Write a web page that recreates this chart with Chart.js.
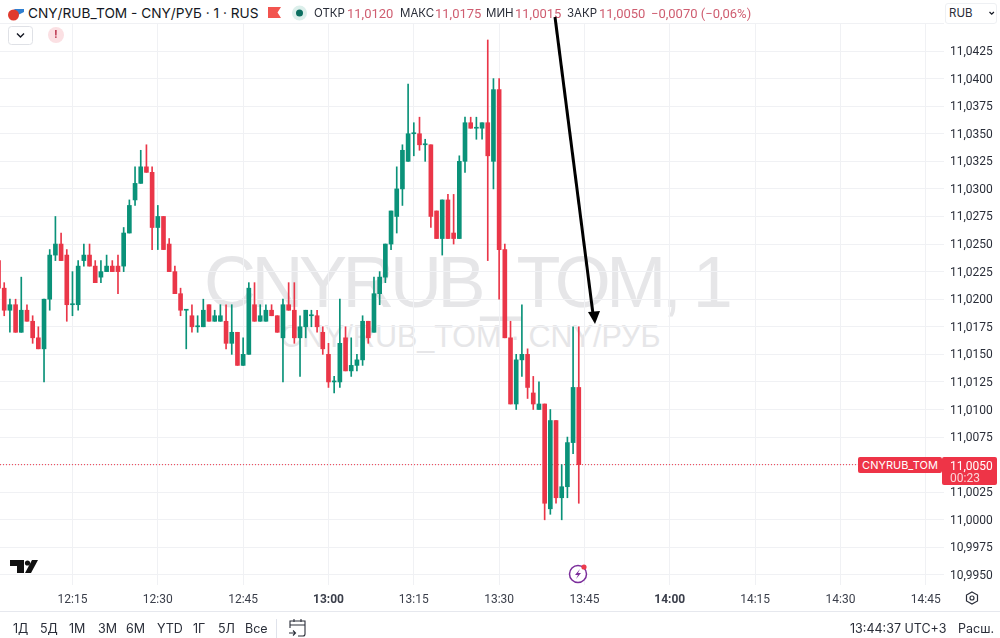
<!DOCTYPE html>
<html>
<head>
<meta charset="utf-8">
<script src="https://cdn.jsdelivr.net/npm/chart.js@4/dist/chart.umd.min.js"></script>
<style>
  html, body { margin: 0; padding: 0; background: #fff; }
  #wrap { position: relative; width: 1000px; height: 638px; overflow: hidden; font-family: Inter, sans-serif; color: #131722; }
  #wrap canvas { position: absolute; left: 0; top: 0; }
  .t { position: absolute; white-space: nowrap; line-height: 1; }
  .wm { font-family: "Liberation Sans", sans-serif; color: #e6e6e8; }
  .lbl { font-size: 11.5px; top: 7.5px; color: #2a2e39; }
  .val { font-family: Roboto, sans-serif; font-size: 13px; top: 6.5px; color: #cf5d70; }
  .tb { font-size: 12.5px; top: 623px; color: #2a2e39; }
  svg { position: absolute; overflow: visible; }
</style>
</head>
<body>
<div id="wrap">
  <div class="t wm" style="left:204px;top:246px;font-size:72px;letter-spacing:-4.5px;">CNYRUB_TOM, 1</div>
  <div class="t wm" style="left:280px;top:321px;font-size:30.5px;">CNY/RUB_TOM · CNY/РУБ</div>

  <canvas id="candleChart" width="1000" height="638"></canvas>

  <!-- header -->
  <div style="position:absolute;left:0;top:0;width:1000px;height:23px;background:#fff;"></div>
  <svg style="left:0;top:0" width="1000" height="50">
    <path d="M14 9 L24 9 L24 12 L18 15 Z" fill="#2f7fd0"/>
    <circle cx="13.5" cy="15" r="5.5" fill="#e03a2e"/>
    <path d="M268 7 H281 L277.5 12.5 L281 18 H268 Z" fill="#f2544f"/>
    <circle cx="299.5" cy="13" r="7.5" fill="#dcefeb"/>
    <circle cx="299.5" cy="13" r="3.5" fill="#0b6f60"/>
    <rect x="8.5" y="26.5" width="24" height="18" rx="3" fill="#fff" stroke="#dfe1e6"/>
    <path d="M17 33.5 L20.5 37 L24 33.5" fill="none" stroke="#131722" stroke-width="1.4"/>
    <circle cx="56" cy="35" r="8" fill="#fbe0e3"/>
  </svg>
  <div class="t" style="left:28px;top:6.5px;font-size:13.7px;">CNY/RUB_TOM - CNY/РУБ · 1 · RUS</div>
  <div class="t" style="left:54px;top:29px;font-size:11px;font-weight:700;color:#c0435a;">!</div>
  <div class="t lbl" style="left:314px;">ОТКР</div><div class="t val" style="left:347px;">11,0120</div>
  <div class="t lbl" style="left:400px;">МАКС</div><div class="t val" style="left:435px;">11,0175</div>
  <div class="t lbl" style="left:486px;">МИН</div><div class="t val" style="left:515px;">11,0015</div>
  <div class="t lbl" style="left:567px;">ЗАКР</div><div class="t val" style="left:599px;">11,0050</div>
  <div class="t val" style="left:651px;">−0,0070 (−0,06%)</div>
  <div class="t" style="left:945px;top:3px;width:52px;height:21px;box-sizing:border-box;border:1px solid #eef0f3;border-radius:3px;background:#fff;font-size:11.5px;line-height:19px;padding-left:3px;color:#2a2e39;">RUB</div>
  <svg style="left:0;top:0" width="1000" height="50">
    <path d="M989.5 12 L991.7 14.2 L993.9 12" fill="none" stroke="#131722" stroke-width="1.2"/>
  </svg>

  <!-- arrow -->
  <svg style="left:0;top:0" width="1000" height="638">
    <line x1="555" y1="17" x2="593" y2="314" stroke="#000" stroke-width="3"/>
    <path d="M595 324 L588 312 L600 311 Z" fill="#000"/>
  </svg>

  <!-- price badges -->
  <div class="t" style="left:858px;top:457px;width:84px;height:16px;background:#ee3447;border-radius:2px;color:#fff;font-size:11px;line-height:16px;text-align:center;">CNYRUB_TOM</div>
  <div style="position:absolute;left:942px;top:457px;width:55px;height:28px;background:#ee3447;border-radius:2px;"></div>
  <div class="t" style="left:950px;top:460px;color:#fff;font-family:Roboto,sans-serif;font-size:12px;">11,0050</div>
  <div class="t" style="left:950px;top:472px;color:#fbd5d9;font-family:Roboto,sans-serif;font-size:12px;">00:23</div>

  <!-- logo, event icon, gear -->
  <svg style="left:0;top:0" width="1000" height="638">
    <path d="M10 560 H24 V573 H17 V566 H10 Z" fill="#111"/>
    <circle cx="27.5" cy="563" r="2.6" fill="#111"/>
    <path d="M32 560 H38 L31 573 H25 Z" fill="#111"/>
    <circle cx="578" cy="574" r="8.5" fill="#fff" stroke="#7b2d9b" stroke-width="1.5"/>
    <path d="M580 569 L575 575 H578 L576 579 L581 573 H578 Z" fill="#7b2d9b"/>
    <circle cx="584" cy="567" r="2.6" fill="#ec3a4c"/>
    <path d="M972 592 L977.5 595 V601 L972 604 L966.5 601 V595 Z" fill="none" stroke="#2a2e39" stroke-width="1.2"/>
    <circle cx="972" cy="598" r="2" fill="none" stroke="#2a2e39" stroke-width="1.2"/>
    <rect x="276" y="619" width="1" height="19" fill="#e0e3eb"/>
    <path d="M290 628 V621 H305 V634 Q305 636 303 636 H298 M290 625 H305 M294 619 V622 M301 619 V622 M289 633 H295 M293 630.5 L295.5 633 L293 635.5" fill="none" stroke="#2a2e39" stroke-width="1.1"/>
    <rect x="0" y="611" width="1000" height="1" fill="#e6e8ee"/>
  </svg>

  <!-- bottom toolbar -->
  <div class="t tb" style="left:13px;">1Д</div>
  <div class="t tb" style="left:40px;">5Д</div>
  <div class="t tb" style="left:69px;">1М</div>
  <div class="t tb" style="left:98px;">3М</div>
  <div class="t tb" style="left:126px;">6М</div>
  <div class="t tb" style="left:157px;">YTD</div>
  <div class="t tb" style="left:193px;">1Г</div>
  <div class="t tb" style="left:218px;">5Л</div>
  <div class="t tb" style="left:245px;">Все</div>
  <div class="t tb" style="left:850px;">13:44:37 UTC+3</div>
  <div class="t tb" style="left:958px;">Расш.</div>
</div>

<script>
const times = [
  "12:02","12:03","12:04","12:05","12:06","12:07","12:08","12:09","12:10","12:11",
  "12:12","12:13","12:14","12:15","12:16","12:17","12:18","12:19","12:20","12:21",
  "12:22","12:23","12:24","12:25","12:26","12:27","12:28","12:29","12:30","12:31",
  "12:32","12:33","12:34","12:35","12:36","12:37","12:38","12:39","12:40","12:41",
  "12:42","12:43","12:44","12:45","12:46","12:47","12:48","12:49","12:50","12:51",
  "12:52","12:53","12:54","12:55","12:56","12:57","12:58","12:59","13:00","13:01",
  "13:02","13:03","13:04","13:05","13:06","13:07","13:08","13:09","13:10","13:11",
  "13:12","13:13","13:14","13:15","13:16","13:17","13:18","13:19","13:20","13:21",
  "13:22","13:23","13:24","13:25","13:26","13:27","13:28","13:29","13:30","13:31",
  "13:32","13:33","13:34","13:35","13:36","13:37","13:38","13:39","13:40","13:41",
  "13:42","13:43","13:44"
];
const opens = [
  11.0235,11.0210,11.0190,11.0195,11.0170,11.0190,11.0180,11.0165,11.0155,11.0200,
  11.0240,11.0250,11.0240,11.0195,11.0195,11.0235,11.0240,11.0230,11.0220,11.0225,
  11.0230,11.0230,11.0230,11.0260,11.0290,11.0305,11.0320,11.0315,11.0265,11.0275,
  11.0250,11.0225,11.0205,11.0190,11.0185,11.0175,11.0175,11.0195,11.0180,11.0180,
  11.0180,11.0160,11.0170,11.0140,11.0150,11.0195,11.0180,11.0180,11.0190,11.0185,
  11.0165,11.0195,11.0190,11.0165,11.0175,11.0185,11.0185,11.0170,11.0150,11.0125,
  11.0125,11.0165,11.0135,11.0140,11.0145,11.0180,11.0170,11.0205,11.0220,11.0250,
  11.0275,11.0300,11.0325,11.0350,11.0350,11.0340,11.0340,11.0280,11.0255,11.0290,
  11.0260,11.0255,11.0325,11.0360,11.0355,11.0355,11.0360,11.0325,11.0390,11.0245,
  11.0165,11.0105,11.0145,11.0150,11.0115,11.0100,11.0105,11.0010,11.0090,11.0020,
  11.0030,11.0070,11.0120
];
const highs = [
  11.0235,11.0215,11.0200,11.0200,11.0220,11.0195,11.0185,11.0175,11.0200,11.0245,
  11.0275,11.0260,11.0245,11.0225,11.0235,11.0250,11.0250,11.0235,11.0235,11.0240,
  11.0235,11.0240,11.0265,11.0290,11.0320,11.0335,11.0340,11.0320,11.0285,11.0275,
  11.0255,11.0230,11.0210,11.0190,11.0195,11.0185,11.0200,11.0195,11.0190,11.0195,
  11.0195,11.0195,11.0170,11.0165,11.0215,11.0215,11.0195,11.0195,11.0195,11.0185,
  11.0200,11.0215,11.0215,11.0185,11.0190,11.0190,11.0190,11.0175,11.0160,11.0130,
  11.0200,11.0175,11.0165,11.0150,11.0185,11.0180,11.0220,11.0225,11.0250,11.0280,
  11.0320,11.0340,11.0395,11.0360,11.0365,11.0345,11.0340,11.0280,11.0290,11.0295,
  11.0295,11.0330,11.0365,11.0365,11.0365,11.0360,11.0435,11.0400,11.0400,11.0250,
  11.0180,11.0150,11.0195,11.0155,11.0130,11.0125,11.0105,11.0100,11.0090,11.0050,
  11.0075,11.0175,11.0175
];
const lows = [
  11.0210,11.0185,11.0170,11.0170,11.0170,11.0180,11.0160,11.0155,11.0125,11.0190,
  11.0235,11.0235,11.0180,11.0185,11.0190,11.0230,11.0230,11.0215,11.0215,11.0225,
  11.0225,11.0205,11.0225,11.0260,11.0285,11.0305,11.0315,11.0245,11.0245,11.0245,
  11.0225,11.0205,11.0185,11.0155,11.0170,11.0170,11.0175,11.0180,11.0180,11.0180,
  11.0155,11.0150,11.0140,11.0140,11.0150,11.0180,11.0180,11.0180,11.0185,11.0170,
  11.0125,11.0190,11.0160,11.0130,11.0165,11.0175,11.0170,11.0150,11.0120,11.0115,
  11.0120,11.0135,11.0130,11.0135,11.0140,11.0160,11.0170,11.0195,11.0215,11.0245,
  11.0260,11.0285,11.0325,11.0330,11.0335,11.0325,11.0265,11.0255,11.0240,11.0255,
  11.0250,11.0255,11.0315,11.0355,11.0345,11.0345,11.0235,11.0300,11.0200,11.0165,
  11.0105,11.0100,11.0130,11.0110,11.0100,11.0100,11.0000,11.0005,11.0015,11.0000,
  11.0020,11.0060,11.0015
];
const closes = [
  11.0210,11.0190,11.0195,11.0170,11.0190,11.0180,11.0165,11.0155,11.0200,11.0240,
  11.0250,11.0235,11.0195,11.0195,11.0230,11.0240,11.0230,11.0215,11.0225,11.0230,
  11.0225,11.0225,11.0260,11.0285,11.0305,11.0320,11.0315,11.0265,11.0275,11.0245,
  11.0225,11.0205,11.0190,11.0190,11.0175,11.0175,11.0190,11.0180,11.0185,11.0185,
  11.0160,11.0170,11.0140,11.0150,11.0210,11.0180,11.0185,11.0190,11.0185,11.0170,
  11.0195,11.0190,11.0165,11.0175,11.0190,11.0185,11.0175,11.0155,11.0125,11.0125,
  11.0160,11.0135,11.0140,11.0145,11.0180,11.0165,11.0205,11.0220,11.0250,11.0280,
  11.0300,11.0335,11.0350,11.0350,11.0340,11.0340,11.0275,11.0255,11.0290,11.0255,
  11.0255,11.0325,11.0360,11.0355,11.0355,11.0360,11.0330,11.0390,11.0245,11.0165,
  11.0105,11.0145,11.0150,11.0120,11.0105,11.0105,11.0015,11.0090,11.0020,11.0030,
  11.0070,11.0120,11.0050
];
const timeTicks = ["12:15","12:30","12:45","13:00","13:15","13:30","13:45","14:00","14:15","14:30","14:45"];
const boldTicks = ["13:00","14:00"];
const priceTicks = [10.995,10.9975,11.0,11.0025,11.005,11.0075,11.01,11.0125,11.015,11.0175,11.02,11.0225,11.025,11.0275,11.03,11.0325,11.035,11.0375,11.04,11.0425,11.045];
const lastPrice = 11.005;

const green = '#0a9279';
const red = '#ea3648';

function toMinutes(s) {
  const p = s.split(':');
  return +p[0] * 60 + +p[1];
}
function toLabel(m) {
  return Math.floor(m / 60) + ':' + String(m % 60).padStart(2, '0');
}
function price(v) {
  return v.toFixed(4).replace('.', ',');
}

const xs = times.map(toMinutes);
const colors = opens.map((o, i) => closes[i] >= o ? green : red);
const xMin = 722.26;
const xMax = 888.2;

const ctx = document.getElementById('candleChart').getContext('2d');
new Chart(ctx, {
  type: 'bar',
  data: {
    datasets: [
      {
        // shadows
        data: xs.map((x, i) => ({ x: x, y: [lows[i], highs[i]] })),
        backgroundColor: colors,
        barThickness: 1,
        grouped: false,
        order: 2
      },
      {
        // bodies
        data: xs.map((x, i) => ({ x: x, y: [opens[i], closes[i]] })),
        backgroundColor: colors,
        barThickness: 4,
        minBarLength: 1,
        grouped: false,
        order: 1
      },
      {
        type: 'line',
        data: [{ x: xMin, y: lastPrice }, { x: xMax, y: lastPrice }],
        borderColor: '#ee3447',
        borderWidth: 1,
        borderDash: [1, 2],
        pointRadius: 0,
        order: 3
      }
    ]
  },
  options: {
    responsive: false,
    animation: false,
    layout: { padding: { top: 23, left: 0, right: 0, bottom: 0 } },
    plugins: { legend: { display: false }, tooltip: { enabled: false } },
    scales: {
      x: {
        type: 'linear',
        offset: false,
        min: xMin,
        max: xMax,
        afterFit: axis => { axis.height = 53; },
        afterBuildTicks: axis => { axis.ticks = timeTicks.map(t => ({ value: toMinutes(t) })); },
        grid: { color: '#f0f1f4', drawTicks: false, offset: false },
        border: { display: false },
        ticks: {
          autoSkip: false,
          maxRotation: 0,
          padding: 8,
          color: '#3a3e4a',
          font: c => ({
            family: 'Roboto',
            size: 12,
            weight: c.tick && boldTicks.includes(toLabel(c.tick.value)) ? '700' : '400'
          }),
          callback: v => toLabel(v)
        }
      },
      y: {
        position: 'right',
        min: 10.99409,
        max: 11.04504,
        afterFit: axis => { axis.width = 56; },
        afterBuildTicks: axis => { axis.ticks = priceTicks.map(v => ({ value: v })); },
        grid: { color: '#f0f1f4', drawTicks: false },
        border: { display: false },
        ticks: {
          padding: 6,
          labelOffset: 1,
          color: '#2a2e39',
          font: { family: 'Roboto', size: 12 },
          callback: v => v > 11.044 ? '' : price(v)
        }
      }
    }
  }
});
</script>
</body>
</html>
